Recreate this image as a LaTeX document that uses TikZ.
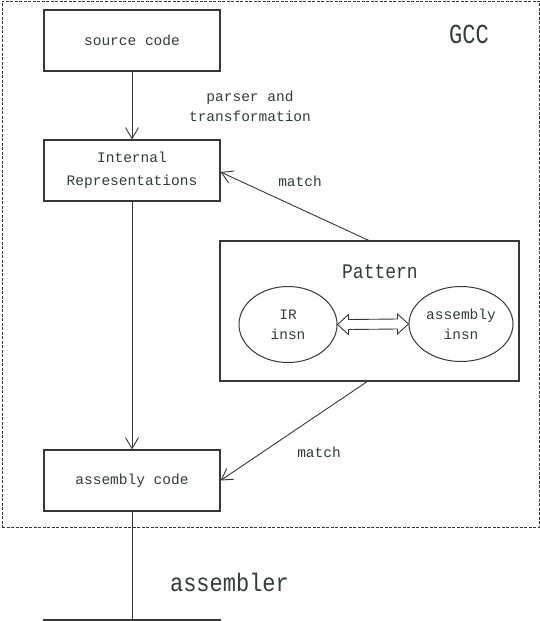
\documentclass[tikz,border=0pt]{standalone}
\usepackage{fontspec}
\setmainfont{Liberation Mono}
\usetikzlibrary{arrows.meta,shapes.geometric,calc}
\definecolor{txt}{RGB}{50,60,60}
\definecolor{ln}{RGB}{55,55,55}
\begin{document}
\begin{tikzpicture}[x=1pt,y=-1pt,
  box/.style={draw=ln,line width=1.1pt,minimum width=176pt,minimum height=61pt,inner sep=0pt,
    font=\fontsize{14.5}{23}\selectfont,text=txt,align=center},
  ell/.style={draw=ln,line width=1pt,ellipse,inner sep=0pt,
    font=\fontsize{14.5}{20}\selectfont,text=txt,align=center},
  lbl/.style={font=\fontsize{14.5}{20}\selectfont,text=txt,align=center,inner sep=0pt},
  big/.style={font=\fontsize{22}{24}\selectfont,text=txt,inner sep=0pt},
  arr/.style={draw=ln,line width=0.9pt,-{Straight Barb[length=11pt,width=13pt,line width=0.9pt]}},
  conn/.style={draw=ln,line width=0.9pt},
]
\useasboundingbox (0,0) rectangle (540,621);
\clip (0,0) rectangle (540,621);
\fill[white] (0,0) rectangle (540,621);
% GCC frame
\node[draw=ln,line width=0.8pt,dash pattern=on 3pt off 1.5pt,minimum width=537pt,minimum height=526pt,inner sep=0pt] (frame) at (270.5,264) {};
\node[big] (gcc) at (469,34) {\scalebox{1}[1.25]{GCC}};
% boxes
\node[box] (src) at (132,40.5) {source code};
\node[box] (ir) at (132,170.5) {Internal\\Representations};
\node[box] (asmc) at (132,480.5) {assembly code};
\node[box] (obj) at (132,650.5) {};
% pattern
\node[draw=ln,line width=1.1pt,minimum width=299pt,minimum height=140pt,inner sep=0pt] (pat) at (369.5,311) {};
\node[font=\fontsize{18}{20}\selectfont,text=txt,inner sep=0pt] (pattxt) at (380,272) {\scalebox{1}[1.15]{Pattern}};
\node[ell,minimum width=98pt,minimum height=76pt] (irn) at (288,324.5) {IR\\insn};
\node[ell,minimum width=104pt,minimum height=75pt] (asmn) at (461,324) {assembly\\insn};
% double arrow
\draw[ln,line width=0.9pt,fill=white]
  ($(irn.east)$) -- ++(11,-10) -- ++(0,5) -- ($(asmn.west)+(-11,-5)$) -- ++(0,-5)
  -- (asmn.west) -- ++(-11,10) -- ++(0,-5) -- ($(irn.east)+(11,5)$) -- ++(0,5) -- cycle;
% connectors
\draw[arr] (src.south) -- (ir.north);
\draw[arr] (ir.south) -- (asmc.north);
\coordinate (pt) at (370,241);
\coordinate (pb) at (368,381);
\draw[arr] (pt) -- ($(ir.east)+(0,1.5)$);
\draw[arr] (pb) -- (asmc.east);
\draw[conn] (asmc.south) -- (obj.north);
% labels
\node[lbl] (parser) at (250,106) {parser and\\transformation};
\node[lbl] (m1) at (300,181) {match};
\node[lbl] (m2) at (319,452) {match};
\node[big] (asmr) at (229.5,582) {\scalebox{1}[1.15]{assembler}};
\end{tikzpicture}
\end{document}
